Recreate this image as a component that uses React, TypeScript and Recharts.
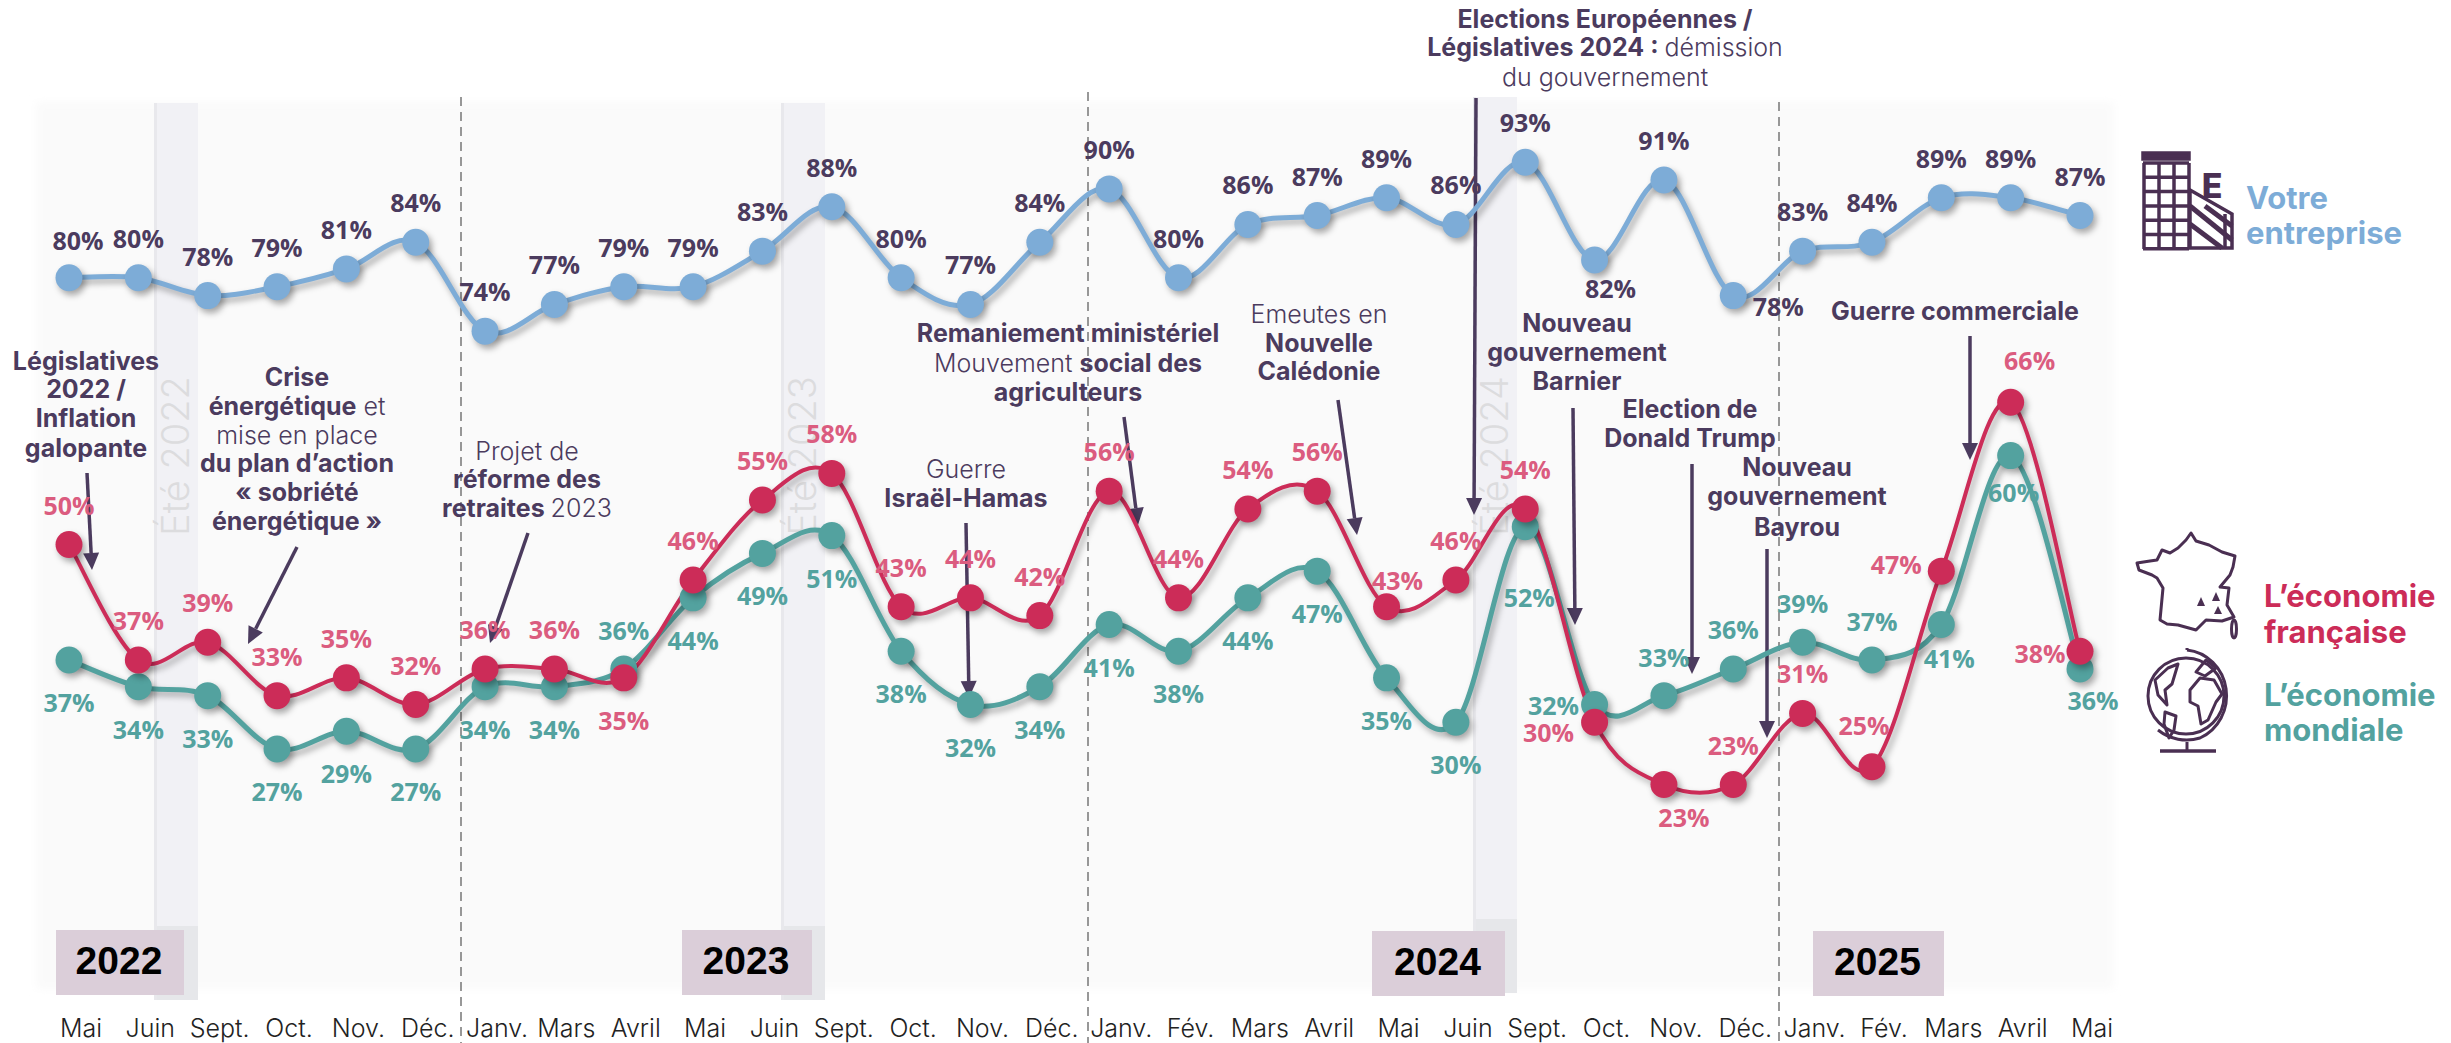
import React from 'react';
import { LineChart, Line, XAxis, YAxis, LabelList } from 'recharts';

const months = ['Mai', 'Juin', 'Sept.', 'Oct.', 'Nov.', 'Déc.', 'Janv.', 'Mars', 'Avril', 'Mai', 'Juin', 'Sept.', 'Oct.', 'Nov.', 'Déc.', 'Janv.', 'Fév.', 'Mars', 'Avril', 'Mai', 'Juin', 'Sept.', 'Oct.', 'Nov.', 'Déc.', 'Janv.', 'Fév.', 'Mars', 'Avril', 'Mai'];
const entreprise = [80, 80, 78, 79, 81, 84, 74, 77, 79, 79, 83, 88, 80, 77, 84, 90, 80, 86, 87, 89, 86, 93, 82, 91, 78, 83, 84, 89, 89, 87];
const francaise = [50, 37, 39, 33, 35, 32, 36, 36, 35, 46, 55, 58, 43, 44, 42, 56, 44, 54, 56, 43, 46, 54, 30, 23, 23, 31, 25, 47, 66, 38];
const mondiale = [37, 34, 33, 27, 29, 27, 34, 34, 36, 44, 49, 51, 38, 32, 34, 41, 38, 44, 47, 35, 30, 52, 32, 33, 36, 39, 37, 41, 60, 36];

const rows = months.map((month, i) => ({ id: i, month, entreprise: entreprise[i], francaise: francaise[i], mondiale: mondiale[i] }));

const PURPLE = '#4B3B5E';
const BLUE = '#7DACD7';
const RED = '#CC2C58';
const RED_LABEL = '#DB5C7F';
const TEAL = '#53A29F';
const ICON = '#4A2F52';
const SHADOW = 'drop-shadow(3px 4px 3px rgba(0,0,0,0.33))';

// label offsets from the point, [dx, dy], only where they differ from the usual place
const blueOffsets: Record<number, number[]> = { 0: [9, -38], 22: [16, 28], 24: [45, 10] };
const redOffsets: Record<number, number[]> = { 8: [0, 42], 19: [11, -27], 22: [-46, 10], 23: [20, 32], 26: [-8, -42], 27: [-45, -7], 28: [19, -42], 29: [-40, 2] };
const tealOffsets: Record<number, number[]> = { 8: [0, -39], 21: [4, 70], 22: [-41, 0], 23: [0, -39], 24: [0, -40], 25: [0, -39], 26: [0, -39], 27: [8, 33], 28: [3, 36], 29: [13, 31] };

const summers = [
  { label: 'Été 2022', x: 154, top: 103, split: 926, bottom: 1000 },
  { label: 'Été 2023', x: 781, top: 103, split: 926, bottom: 1000 },
  { label: 'Été 2024', x: 1473, top: 97, split: 919, bottom: 993 },
];
const dividers = [{ x: 461, top: 97 }, { x: 1088, top: 92 }, { x: 1779, top: 102 }];
const yearBoxes = [
  { year: '2022', x: 56, w: 128, y: 930 },
  { year: '2023', x: 682, w: 130, y: 930 },
  { year: '2024', x: 1372, w: 133, y: 931 },
  { year: '2025', x: 1813, w: 131, y: 931 },
];

type Part = [string, boolean];
const notes: { x: number; lines: [number, Part[]][] }[] = [
  { x: 86, lines: [[361, [['Législatives', true]]], [389, [['2022 /', true]]], [418, [['Inflation', true]]], [448, [['galopante', true]]]] },
  { x: 297, lines: [[377, [['Crise', true]]], [406, [['énergétique', true], [' et', false]]], [435, [['mise en place', false]]], [463, [['du plan d’action', true]]], [492, [['« sobriété', true]]], [521, [['énergétique »', true]]]] },
  { x: 527, lines: [[451, [['Projet de', false]]], [479, [['réforme des', true]]], [508, [['retraites ', true], [' 2023', false]]]] },
  { x: 1068, lines: [[333, [['Remaniement ministériel', true]]], [363, [['Mouvement ', false], ['social des', true]]], [392, [['agriculteurs', true]]]] },
  { x: 966, lines: [[469, [['Guerre', false]]], [498, [['Israël-Hamas', true]]]] },
  { x: 1319, lines: [[314, [['Emeutes en', false]]], [343, [['Nouvelle', true]]], [371, [['Calédonie', true]]]] },
  { x: 1605, lines: [[19, [['Elections Européennes /', true]]], [47, [['Législatives 2024 : ', true], ['démission', false]]], [77, [['du gouvernement', false]]]] },
  { x: 1577, lines: [[323, [['Nouveau', true]]], [352, [['gouvernement', true]]], [381, [['Barnier', true]]]] },
  { x: 1690, lines: [[409, [['Election de', true]]], [438, [['Donald Trump', true]]]] },
  { x: 1797, lines: [[467, [['Nouveau', true]]], [496, [['gouvernement', true]]], [527, [['Bayrou', true]]]] },
  { x: 1955, lines: [[311, [['Guerre commerciale', true]]]] },
];
const arrows = [
  [87, 473, 92, 570], [297, 547, 248, 644], [528, 533, 490, 643], [966, 523, 969, 698],
  [1124, 417, 1138, 525], [1338, 400, 1357, 535], [1476, 98, 1474, 515], [1573, 408, 1575, 625],
  [1692, 464, 1692, 674], [1767, 549, 1767, 738], [1970, 336, 1970, 460],
];

// Excel-style smoothed line
function smoothCurve(context: any) {
  let pts: number[][] = [];
  return {
    areaStart() {},
    areaEnd() {},
    lineStart() {
      pts = [];
    },
    point(x: number, y: number) {
      pts.push([x, y]);
    },
    lineEnd() {
      const n = pts.length;
      if (!n) return;
      context.moveTo(pts[0][0], pts[0][1]);
      for (let i = 0; i < n - 1; i++) {
        const p0 = pts[Math.max(i - 1, 0)];
        const p1 = pts[i];
        const p2 = pts[i + 1];
        const p3 = pts[Math.min(i + 2, n - 1)];
        context.bezierCurveTo(
          p1[0] + (p2[0] - p0[0]) / 6,
          p1[1] + (p2[1] - p0[1]) / 6,
          p2[0] - (p3[0] - p1[0]) / 6,
          p2[1] - (p3[1] - p1[1]) / 6,
          p2[0],
          p2[1]
        );
      }
    },
  };
}

const renderDot = (fill: string) => (props: any) => (
  <circle key={props.index} cx={props.cx} cy={props.cy} r={13.5} fill={fill} style={{ filter: SHADOW }} />
);

const renderLabel = (fill: string, offsets: Record<number, number[]>, fallback: number) => (props: any) => {
  const [dx, dy] = offsets[props.index] || [0, fallback];
  return (
    <text x={props.x + dx} y={props.y + dy} fill={fill} textAnchor="middle" dominantBaseline="central" fontFamily="Open Sans" fontWeight={700} fontSize={25}>
      {props.value}%
    </text>
  );
};

const MonthTick = (props: any) => (
  <text x={props.x + 12} y={1037} textAnchor="middle" fontFamily="Inter" fontWeight={300} fontSize={25} fill="#222">
    {props.payload.value}
  </text>
);

function Arrow({ d }: { d: number[] }) {
  const [x1, y1, x2, y2] = d;
  const len = Math.hypot(x2 - x1, y2 - y1);
  const ux = (x2 - x1) / len;
  const uy = (y2 - y1) / len;
  const bx = x2 - ux * 17;
  const by = y2 - uy * 17;
  return (
    <g>
      <line x1={x1} y1={y1} x2={bx} y2={by} stroke={PURPLE} strokeWidth={3.5} />
      <polygon points={`${x2},${y2} ${bx - uy * 8},${by + ux * 8} ${bx + uy * 8},${by - ux * 8}`} fill={PURPLE} />
    </g>
  );
}

function Icons() {
  const grid = [];
  for (let r = 0; r <= 6; r++) grid.push(<line key={`h${r}`} x1={2143} x2={2189} y1={163 + r * 14.3} y2={163 + r * 14.3} />);
  for (let c = 0; c <= 3; c++) grid.push(<line key={`v${c}`} x1={2144 + c * 15} x2={2144 + c * 15} y1={163} y2={249} />);
  return (
    <g>
      <g stroke={ICON} strokeWidth={3.5} fill="none">
        <rect x={2143} y={153} width={46} height={6} fill={ICON} />
        {grid}
        <polygon points="2190,190 2232,214 2232,248 2190,248" />
        <line x1={2190} y1={206} x2={2232} y2={240} strokeWidth={5} />
        <line x1={2190} y1={224} x2={2222} y2={248} strokeWidth={5} />
        <line x1={2205} y1={206} x2={2232} y2={226} strokeWidth={5} />
        <line x1={2225} y1={214} x2={2225} y2={248} />
      </g>
      <text x={2212} y={198} textAnchor="middle" fontFamily="Inter" fontWeight={800} fontSize={34} fill={ICON}>E</text>

      <g stroke={ICON} strokeWidth={3} fill="none" strokeLinejoin="round">
        <polygon points="2191,533 2196,541 2209,545 2222,552 2235,556 2233,567 2230,575 2220,587 2229,588 2227,605 2234,617 2222,621 2206,620 2196,630 2178,625 2167,624 2160,620 2163,588 2157,578 2152,575 2139,570 2137,563 2150,561 2157,560 2162,550 2170,553 2178,548 2186,540" />
        <ellipse cx={2234} cy={629} rx={2.5} ry={9} />
      </g>
      <polygon points="2201,597 2197,606 2205,606" fill={ICON} />
      <polygon points="2216,592 2212,601 2220,601" fill={ICON} />
      <polygon points="2218,606 2214,614 2222,614" fill={ICON} />

      <g stroke={ICON} strokeWidth={3} fill="none" strokeLinejoin="round">
        <circle cx={2186} cy={696} r={38} />
        <path d="M2187 650 A44 46 0 0 1 2200 738 A46 46 0 0 1 2158 730" />
        <line x1={2187} y1={650} x2={2187} y2={648} />
        <line x1={2187} y1={742} x2={2187} y2={752} />
        <line x1={2160} y1={751} x2={2216} y2={751} strokeWidth={3.5} />
        <path d="M2155 680 L2168 668 L2178 664 L2172 684 L2165 690 L2167 705 L2158 695 Z" />
        <path d="M2165 712 L2176 716 L2174 730 L2169 738 L2164 724 Z" />
        <path d="M2190 690 L2200 678 L2214 680 L2222 694 L2216 702 L2208 720 L2201 724 L2198 706 L2190 702 Z" />
        <path d="M2196 672 L2206 660 L2216 668 L2205 676 Z" />
      </g>
    </g>
  );
}

export default function App() {
  return (
    <div style={{ position: 'absolute', left: 0, top: 0, width: 2451, height: 1043, background: '#fff' }}>
      <LineChart width={2451} height={1043} data={rows} margin={{ top: 100, right: 371, bottom: 0, left: 69 }}>
        <defs>
          <filter id="softEdge" x="-2%" y="-2%" width="104%" height="104%">
            <feGaussianBlur stdDeviation="5" />
          </filter>
        </defs>
        <rect x={36} y={102} width={2078} height={887} fill="#FAFAFA" filter="url(#softEdge)" />
        {summers.map((s) => (
          <g key={s.label}>
            <rect x={s.x} y={s.top} width={44} height={s.split - s.top} fill="#F1F1F5" />
            <rect x={s.x} y={s.split} width={44} height={s.bottom - s.split} fill="#E6E7EA" />
            <rect x={s.x} y={s.top} width={3} height={s.bottom - s.top} fill="#E8E8EC" />
            <text transform={`translate(${s.x + 35} 456) rotate(-90)`} textAnchor="middle" fontFamily="Inter" fontWeight={300} fontSize={38} fill="#DCDCDE">{s.label}</text>
          </g>
        ))}
        {dividers.map((d) => (
          <line key={d.x} x1={d.x} x2={d.x} y1={d.top} y2={1043} stroke="#777" strokeWidth={1.5} strokeDasharray="9 6" />
        ))}
        {yearBoxes.map((b) => (
          <g key={b.year}>
            <rect x={b.x} y={b.y} width={b.w} height={65} fill="#DBCED9" />
            <text x={b.x + b.w / 2 - 1} y={b.y + 30} textAnchor="middle" dominantBaseline="central" fontFamily="Liberation Sans" fontWeight={700} fontSize={39} fill="#000">{b.year}</text>
          </g>
        ))}
        <XAxis dataKey="month" height={54} interval={0} axisLine={false} tickLine={false} tick={<MonthTick />} allowDuplicatedCategory />
        <YAxis hide domain={[0, 100]} />
        <Line dataKey="entreprise" type={smoothCurve as any} stroke={BLUE} strokeWidth={5} dot={renderDot(BLUE)} activeDot={false} isAnimationActive={false} style={{ filter: SHADOW }}>
          <LabelList dataKey="entreprise" content={renderLabel(PURPLE, blueOffsets, -40)} />
        </Line>
        <Line dataKey="mondiale" type={smoothCurve as any} stroke={TEAL} strokeWidth={5} dot={renderDot(TEAL)} activeDot={false} isAnimationActive={false} style={{ filter: SHADOW }}>
          <LabelList dataKey="mondiale" content={renderLabel(TEAL, tealOffsets, 42)} />
        </Line>
        <Line dataKey="francaise" type={smoothCurve as any} stroke={RED} strokeWidth={4} dot={renderDot(RED)} activeDot={false} isAnimationActive={false} style={{ filter: SHADOW }}>
          <LabelList dataKey="francaise" content={renderLabel(RED_LABEL, redOffsets, -40)} />
        </Line>
        {arrows.map((a) => (
          <Arrow key={a.join()} d={a} />
        ))}
        {notes.map((n) => (
          <text key={n.x} textAnchor="middle" fontFamily="Inter" fontSize={25} fill={PURPLE}>
            {n.lines.map(([y, parts]) => (
              <tspan key={y} x={n.x} y={y + 9}>
                {parts.map(([t, bold]) => (
                  <tspan key={t} fontWeight={bold ? 700 : 300}>{t}</tspan>
                ))}
              </tspan>
            ))}
          </text>
        ))}
        <Icons />
        <g fontFamily="Inter" fontWeight={700} fontSize={31}>
          <text x={2246} y={209} fill={BLUE}>Votre</text>
          <text x={2246} y={244} fill={BLUE}>entreprise</text>
          <text x={2264} y={607} fill={RED}>L’économie</text>
          <text x={2264} y={643} fill={RED}>française</text>
          <text x={2264} y={706} fill={TEAL}>L’économie</text>
          <text x={2264} y={741} fill={TEAL}>mondiale</text>
        </g>
      </LineChart>
    </div>
  );
}
